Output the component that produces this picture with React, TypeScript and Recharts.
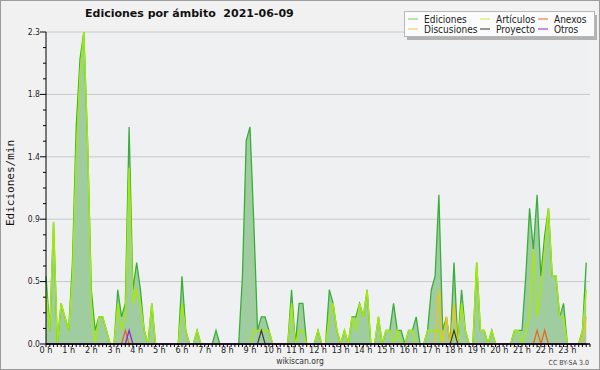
import React from 'react';
import { ComposedChart, Area, Line, XAxis, YAxis, CartesianGrid, ReferenceLine } from 'recharts';

// 10-minute slots, 12 per row (2 hours)
const ediciones = [
  0.5, 0.1, 0.9, 0, 0.3, 0.2, 0.1, 0.6, 1.6, 2.1, 2.3, 1.5,
  0.4, 0.1, 0.2, 0.2, 0.1, 0, 0, 0.4, 0.2, 0.3, 1.6, 0.4,
  0.6, 0.4, 0.1, 0, 0.3, 0, 0, 0, 0, 0, 0, 0,
  0.5, 0.1, 0, 0, 0.1, 0, 0, 0, 0, 0.1, 0, 0,
  0, 0, 0, 0, 0.5, 1.5, 1.6, 0.9, 0.1, 0.2, 0.2, 0.1,
  0, 0, 0, 0, 0, 0.4, 0, 0.3, 0.3, 0, 0, 0,
  0.1, 0, 0, 0.4, 0.3, 0.1, 0, 0.1, 0, 0.2, 0.2, 0.3,
  0.2, 0.4, 0, 0, 0.2, 0, 0.1, 0.1, 0.3, 0.1, 0.1, 0,
  0.1, 0.1, 0.2, 0, 0, 0.1, 0.4, 0.5, 1.1, 0.1, 0.2, 0,
  0.6, 0, 0.4, 0.1, 0, 0, 0.6, 0.1, 0.1, 0, 0.1, 0,
  0, 0, 0, 0, 0.1, 0.1, 0.1, 0.5, 1.0, 0.7, 1.1, 0.5,
  0.8, 1.0, 0.5, 0.5, 0.2, 0.3, 0, 0, 0, 0, 0.1, 0.6,
];

const articulos = [
  0.4, 0.1, 0.9, 0, 0.3, 0.2, 0.1, 0.5, 1.4, 2.0, 2.3, 1.5,
  0.3, 0, 0.2, 0.2, 0.1, 0, 0, 0.3, 0.1, 0.2, 1.3, 0.3,
  0.4, 0.3, 0.1, 0, 0.3, 0, 0, 0, 0, 0, 0, 0,
  0.3, 0.1, 0, 0, 0.1, 0, 0, 0, 0, 0, 0, 0,
  0, 0, 0, 0, 0, 0, 0, 0.1, 0.1, 0.1, 0.1, 0.1,
  0, 0, 0, 0, 0, 0.3, 0, 0.1, 0.1, 0, 0, 0,
  0.1, 0, 0, 0.2, 0.3, 0.1, 0, 0.1, 0, 0.2, 0.1, 0.3,
  0.2, 0.4, 0, 0, 0.2, 0, 0.1, 0.1, 0, 0.1, 0, 0,
  0.1, 0.1, 0, 0, 0, 0.1, 0.1, 0.1, 0.1, 0, 0, 0,
  0.1, 0, 0.3, 0.1, 0, 0, 0.6, 0.1, 0.1, 0, 0.1, 0,
  0, 0, 0, 0, 0.1, 0.1, 0, 0.1, 0.2, 0.7, 0.2, 0.4,
  0.7, 1.0, 0.5, 0.5, 0.2, 0.2, 0, 0, 0, 0, 0.1, 0.4,
];

const discusiones = [
  0, 0, 0, 0, 0, 0, 0, 0, 0, 0, 0, 0,
  0, 0, 0, 0, 0, 0, 0, 0, 0, 0, 0, 0,
  0, 0, 0, 0, 0, 0, 0, 0, 0, 0, 0, 0,
  0, 0, 0, 0, 0, 0, 0, 0, 0, 0, 0, 0,
  0, 0, 0, 0, 0, 0, 0, 0, 0, 0, 0, 0,
  0, 0, 0, 0, 0, 0, 0, 0, 0, 0, 0, 0,
  0, 0, 0, 0, 0, 0, 0, 0, 0, 0, 0, 0,
  0, 0, 0, 0, 0, 0, 0, 0, 0, 0, 0, 0,
  0, 0, 0, 0, 0, 0, 0, 0, 0.4, 0, 0.2, 0,
  0.3, 0, 0, 0, 0, 0, 0, 0, 0, 0, 0, 0,
  0, 0, 0, 0, 0, 0, 0, 0, 0, 0, 0, 0,
  0, 0, 0, 0, 0, 0, 0, 0, 0, 0, 0, 0.2,
];

const anexos = [
  0, 0, 0, 0, 0, 0, 0, 0, 0, 0, 0, 0,
  0, 0, 0, 0, 0, 0, 0, 0, 0, 0.1, 0, 0,
  0, 0, 0, 0, 0, 0, 0, 0, 0, 0, 0, 0,
  0, 0, 0, 0, 0, 0, 0, 0, 0, 0, 0, 0,
  0, 0, 0, 0, 0, 0, 0, 0, 0, 0, 0, 0,
  0, 0, 0, 0, 0, 0, 0, 0, 0, 0, 0, 0,
  0, 0, 0, 0, 0, 0, 0, 0, 0, 0, 0, 0,
  0, 0, 0, 0, 0, 0, 0, 0, 0, 0, 0, 0,
  0, 0, 0, 0, 0, 0, 0, 0, 0, 0, 0, 0,
  0, 0, 0, 0, 0, 0, 0, 0, 0, 0, 0, 0,
  0, 0, 0, 0, 0, 0, 0, 0, 0, 0, 0.1, 0,
  0.1, 0, 0, 0, 0, 0, 0, 0, 0, 0, 0, 0,
];

const proyecto = [
  0, 0, 0, 0, 0, 0, 0, 0, 0, 0, 0, 0,
  0, 0, 0, 0, 0, 0, 0, 0, 0, 0, 0, 0,
  0, 0, 0, 0, 0, 0, 0, 0, 0, 0, 0, 0,
  0, 0, 0, 0, 0, 0, 0, 0, 0, 0, 0, 0,
  0, 0, 0, 0, 0, 0, 0, 0, 0, 0.1, 0, 0,
  0, 0, 0, 0, 0, 0, 0, 0, 0, 0, 0, 0,
  0, 0, 0, 0, 0, 0, 0, 0, 0, 0, 0, 0,
  0, 0, 0, 0, 0, 0, 0, 0, 0, 0, 0, 0,
  0, 0, 0, 0, 0, 0, 0, 0, 0, 0, 0, 0,
  0.1, 0, 0, 0, 0, 0, 0, 0, 0, 0, 0, 0,
  0, 0, 0, 0, 0, 0, 0, 0, 0, 0, 0, 0,
  0, 0, 0, 0, 0, 0, 0, 0, 0, 0, 0, 0,
];

const otros = [
  0, 0, 0, 0, 0, 0, 0, 0, 0, 0, 0, 0,
  0, 0, 0, 0, 0, 0, 0, 0, 0, 0, 0.1, 0,
  0, 0, 0, 0, 0, 0, 0, 0, 0, 0, 0, 0,
  0, 0, 0, 0, 0, 0, 0, 0, 0, 0, 0, 0,
  0, 0, 0, 0, 0, 0, 0, 0, 0, 0, 0, 0,
  0, 0, 0, 0, 0, 0, 0, 0, 0, 0, 0, 0,
  0, 0, 0, 0, 0, 0, 0, 0, 0, 0, 0, 0,
  0, 0, 0, 0, 0, 0, 0, 0, 0, 0, 0, 0,
  0, 0, 0, 0, 0, 0, 0, 0, 0, 0, 0, 0,
  0, 0, 0, 0, 0, 0, 0, 0, 0, 0, 0, 0,
  0, 0, 0, 0, 0, 0, 0, 0, 0, 0, 0, 0,
  0, 0, 0, 0, 0, 0, 0, 0, 0, 0, 0, 0,
];

const hourLabels = [
  '0 h', '1 h', '2 h', '3 h', '4 h', '5 h', '6 h', '7 h', '8 h', '9 h', '10 h', '11 h',
  '12 h', '13 h', '14 h', '15 h', '16 h', '17 h', '18 h', '19 h', '20 h', '21 h', '22 h', '23 h',
];

const yMax = 2.3;
const yTicks = Array.from({ length: 21 }, (_, k) => +(k * yMax / 20).toFixed(4));
const yMajor = yTicks.filter((_, k) => k % 4 === 0);
const xTicks = Array.from({ length: 145 }, (_, k) => k);

const legendItems = [
  { name: 'Ediciones', color: '#8fd08f', x: 408, y: 19 },
  { name: 'Discusiones', color: '#f2d060', x: 408, y: 29 },
  { name: 'Artículos', color: '#cdf060', x: 480, y: 19 },
  { name: 'Proyecto', color: '#555555', x: 480, y: 29 },
  { name: 'Anexos', color: '#f08048', x: 538, y: 19 },
  { name: 'Otros', color: '#9a48ee', x: 538, y: 29 },
];

const data = ediciones.map((v, i) => ({
  slot: i,
  ediciones: v,
  articulos: articulos[i],
  discusiones: discusiones[i],
  anexos: anexos[i],
  proyecto: proyecto[i],
  otros: otros[i],
}));

const tickFont = "'DejaVu Sans Condensed', 'DejaVu Sans', sans-serif";

const YTick = (props: any) => {
  const { x, y, payload } = props;
  const k = Math.round((payload.value / yMax) * 20);
  if (k % 4 !== 0) return null;
  return (
    <g>
      <line x1={x - 1} y1={y} x2={x + 2} y2={y} stroke="#000" />
      <text x={x - 1} y={y} dy="0.32em" textAnchor="end" fontSize={8.5} fill="#222" fontFamily={tickFont}>
        {payload.value.toFixed(1)}
      </text>
    </g>
  );
};

const XTick = (props: any) => {
  const { x, y, payload } = props;
  const v = payload.value;
  if (v % 6 !== 0 || v / 6 >= hourLabels.length) return null;
  return (
    <text x={x} y={y} dy="0.71em" textAnchor="middle" fontSize={9} fill="#222" fontFamily={tickFont}>
      {hourLabels[v / 6]}
    </text>
  );
};

const App: React.FC = () => {
  return (
    <div style={{ position: 'absolute', left: 0, top: 0, width: 600, height: 370, background: '#f1f1f1' }}>
      <ComposedChart width={600} height={370} data={data} margin={{ top: 32, right: 10, left: 0, bottom: 0 }}>
        <CartesianGrid
          vertical={false}
          horizontalValues={yMajor.slice(1)}
          stroke="#c9c9c9"
          fill="#eef0f2"
          fillOpacity={1}
        />
        <XAxis
          type="number"
          dataKey="slot"
          domain={[0, 144]}
          ticks={xTicks}
          interval={0}
          tickSize={3}
          tickMargin={0}
          height={26}
          axisLine={{ stroke: '#000' }}
          tickLine={{ stroke: '#000' }}
          tick={<XTick />}
        />
        <YAxis
          type="number"
          domain={[0, yMax]}
          ticks={yTicks}
          interval={0}
          width={46}
          tickSize={3}
          axisLine={{ stroke: '#000' }}
          tickLine={{ stroke: '#000' }}
          tick={<YTick />}
        />
        <Area
          type="linear"
          dataKey="ediciones"
          stroke="#3aae3a"
          strokeWidth={1.3}
          fill="#9fcd9f"
          fillOpacity={1}
          dot={false}
          activeDot={false}
          isAnimationActive={false}
        />
        <Line type="linear" dataKey="articulos" stroke="#a6ea08" strokeWidth={1.4} dot={false} activeDot={false} isAnimationActive={false} />
        <Line type="linear" dataKey="discusiones" stroke="#f0c414" strokeWidth={1.3} dot={false} activeDot={false} isAnimationActive={false} />
        <Line type="linear" dataKey="anexos" stroke="#ee6420" strokeWidth={1.3} dot={false} activeDot={false} isAnimationActive={false} />
        <Line type="linear" dataKey="proyecto" stroke="#3a3a3a" strokeWidth={1.2} dot={false} activeDot={false} isAnimationActive={false} />
        <Line type="linear" dataKey="otros" stroke="#8a2be2" strokeWidth={1.3} dot={false} activeDot={false} isAnimationActive={false} />
        <ReferenceLine y={0} stroke="#000" strokeWidth={1.2} />
      </ComposedChart>

      <svg width={600} height={370} style={{ position: 'absolute', left: 0, top: 0, pointerEvents: 'none' }}>
        <rect x={0.5} y={0.5} width={599} height={369} fill="none" stroke="#9c9c9c" />
        <text x={85} y={17} fontSize={11} fontWeight="bold" fill="#111" fontFamily="'DejaVu Sans', sans-serif" style={{ whiteSpace: 'pre' }}>
          {'Ediciones por ámbito  2021-06-09'}
        </text>
        <text
          x={10}
          y={183}
          transform="rotate(-90 10 183)"
          textAnchor="middle"
          dominantBaseline="central"
          fontSize={11}
          fill="#111"
          fontFamily="'DejaVu Sans Mono', monospace"
        >
          Ediciones/min
        </text>
        <text x={300} y={364} textAnchor="middle" fontSize={8.5} fill="#333" fontFamily={tickFont}>
          wikiscan.org
        </text>
        <text x={589} y={365} textAnchor="end" fontSize={7} fill="#444" fontFamily={tickFont}>
          CC BY-SA 3.0
        </text>

        <rect x={407} y={15} width={190} height={25} fill="#b2b2b2" />
        <rect x={404.5} y={11.5} width={190} height={25} fill="#fbfbfb" stroke="#b8b8b8" />
        {legendItems.map((it) => (
          <g key={it.name}>
            <line x1={it.x} y1={it.y} x2={it.x + 10} y2={it.y} stroke={it.color} strokeWidth={1.2} />
            <text
              x={it.x + 16}
              y={it.y}
              dominantBaseline="central"
              fontSize={10}
              fill="#222"
              fontFamily={tickFont}
            >
              {it.name}
            </text>
          </g>
        ))}
      </svg>
    </div>
  );
};

export default App;
